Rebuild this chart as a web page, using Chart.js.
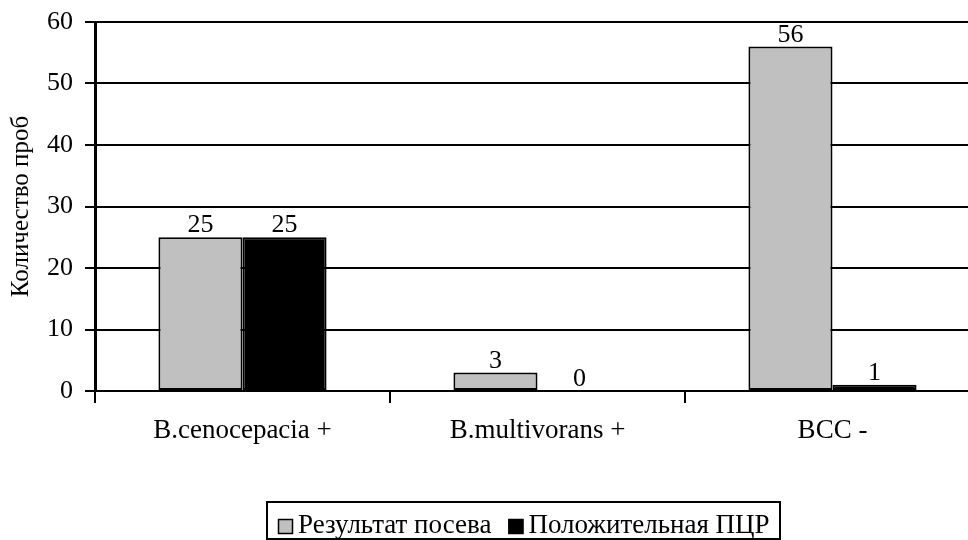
<!DOCTYPE html>
<html><head><meta charset="utf-8">
<script src="https://cdn.jsdelivr.net/npm/chart.js@4/dist/chart.umd.min.js"></script>
<style>html,body{margin:0;padding:0;background:#fff;overflow:hidden}#wrap{width:980px;height:540px}</style>
</head><body><div id="wrap"><canvas id="c" width="980" height="540"></canvas></div>
<script>
const categories = ['B.cenocepacia +', 'B.multivorans +', 'BCC -'];
const seriesNames = ['Результат посева', 'Положительная ПЦР'];
const cultureValues = [25, 3, 56];
const pcrValues = [25, 0, 1];
const yTicks = [0, 10, 20, 30, 40, 50, 60];
const yTitle = 'Количество проб';
const FONT = '"Liberation Serif", "Times New Roman", serif';
const FS = 26;

const labelPlugin = {
  id: 'valLabels',
  afterDatasetsDraw(chart) {
    const ctx = chart.ctx;
    ctx.save();
    ctx.font = FS + 'px ' + FONT;
    ctx.fillStyle = '#000';
    ctx.textAlign = 'center';
    ctx.textBaseline = 'alphabetic';
    chart.data.datasets.forEach((ds, i) => {
      chart.getDatasetMeta(i).data.forEach((el, j) => {
        ctx.fillText(String(ds.data[j]), el.x, el.y - 5);
      });
    });
    ctx.restore();
  }
};
const customLegend = {
  id: 'customLegend',
  afterDraw(chart) {
    const ctx = chart.ctx;
    ctx.save();
    ctx.font = '27px ' + FONT;
    const ds = chart.data.datasets;
    const widths = ds.map(d => ctx.measureText(d.label).width);
    const padL = 11, mk = 15, mkGap = 5, itemGap = 17, padR = 10;
    let total = padL + padR;
    widths.forEach((w, i) => { total += mk + mkGap + w + (i < widths.length - 1 ? itemGap : 0); });
    const left = 267;
    const top = 502, bottom = 539;
    ctx.strokeStyle = '#000'; ctx.lineWidth = 2;
    ctx.strokeRect(left, top, Math.round(total), bottom - top);
    let x = left + padL;
    ds.forEach((d, i) => {
      ctx.fillStyle = d.backgroundColor;
      ctx.fillRect(x, 519, mk, mk);
      ctx.lineWidth = 1.5; ctx.strokeStyle = '#000';
      ctx.strokeRect(x + 0.5, 519.5, mk - 1, mk - 1);
      x += mk + mkGap;
      ctx.fillStyle = '#000';
      ctx.textAlign = 'left'; ctx.textBaseline = 'alphabetic';
      ctx.fillText(d.label, x, 533);
      x += widths[i] + itemGap;
    });
    ctx.restore();
  }
};

new Chart(document.getElementById('c'), {
  type: 'bar',
  data: {
    labels: categories,
    datasets: [
      { label: seriesNames[0], data: cultureValues, backgroundColor: '#c0c0c0', borderColor: '#000', borderWidth: 2, borderSkipped: false },
      { label: seriesNames[1], data: pcrValues, backgroundColor: '#000', borderColor: '#000', borderWidth: 2, borderSkipped: false }
    ]
  },
  plugins: [labelPlugin, customLegend],
  options: {
    responsive: false,
    animation: false,
    layout: { padding: { top: 22, left: 0, right: 0, bottom: 49 } },
    datasets: { bar: { categoryPercentage: 0.57, barPercentage: 1 } },
    plugins: {
      tooltip: { enabled: false },
      legend: { display: false }
    },
    scales: {
      x: {
        grid: { display: true, offset: true, drawOnChartArea: false, color: '#000', lineWidth: 2, tickLength: 12 },
        border: { color: '#000', width: 2 },
        ticks: { color: '#000', font: { family: FONT, size: 27 }, padding: 12 },
        afterFit(s) { s.height = 100; s.paddingLeft = 0; s.paddingRight = 0; }
      },
      y: {
        min: 0, max: 60,
        afterBuildTicks(s) { s.ticks = yTicks.map(v => ({ value: v })); },
        grid: { color: '#000', lineWidth: 2, tickLength: 10 },
        border: { color: '#000', width: 3 },
        ticks: { color: '#000', font: { family: FONT, size: FS }, padding: 12 },
        title: { display: true, text: yTitle, color: '#000', font: { family: FONT, size: 25 }, padding: { top: 6, bottom: 0 } },
        afterFit(s) { s.width = 95; s.paddingTop = 0; s.paddingBottom = 0; }
      }
    }
  }
});
</script></body></html>
